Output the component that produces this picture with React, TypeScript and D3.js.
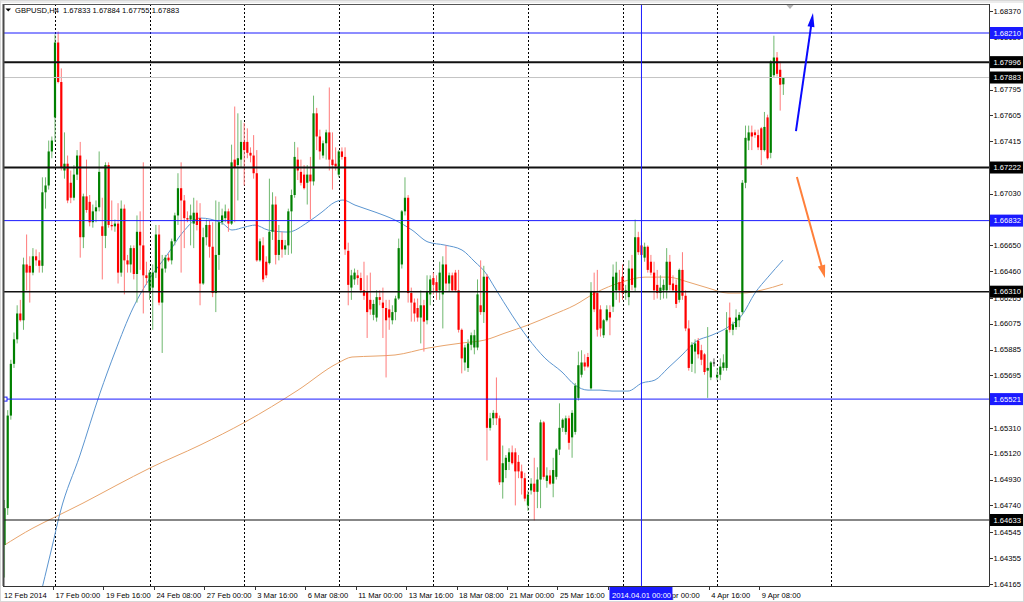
import React from "react";
import * as d3 from "d3";

// ---------- data ----------
const SYMBOL = "GBPUSD,H4";
const LAST_OHLC = ["1.67833", "1.67884", "1.67755", "1.67883"];

// bar index of the first candle (bar 0 = 17 Feb 2014 00:00, H4 bars, 30 per week)
const FIRST_BAR = -16;

// [open, high, low, close]
const candles: [number, number, number, number][] = [
  [1.6445, 1.6478, 1.6421, 1.6472], [1.6472, 1.6544, 1.6467, 1.654], [1.654, 1.6581, 1.6537, 1.6578], [1.6578, 1.6601, 1.6575, 1.6596],
  [1.6596, 1.6621, 1.6593, 1.6615], [1.6615, 1.6625, 1.6609, 1.661], [1.661, 1.6656, 1.6603, 1.6651], [1.6651, 1.6673, 1.6632, 1.6645],
  [1.665, 1.6657, 1.6623, 1.6645], [1.6645, 1.6663, 1.6643, 1.6657], [1.6657, 1.6662, 1.665, 1.6654], [1.6654, 1.666, 1.6645, 1.665],
  [1.665, 1.6715, 1.6645, 1.6704], [1.6704, 1.6715, 1.6692, 1.6709], [1.6709, 1.6742, 1.6706, 1.6734], [1.6734, 1.6745, 1.6729, 1.6742],
  [1.6759, 1.682, 1.6741, 1.6814], [1.6814, 1.6822, 1.6784, 1.6785], [1.6785, 1.6795, 1.672, 1.6722], [1.672, 1.6748, 1.6714, 1.6725],
  [1.6725, 1.6731, 1.6696, 1.6698], [1.6711, 1.672, 1.6696, 1.67], [1.67, 1.6724, 1.6698, 1.6717], [1.6717, 1.6735, 1.6713, 1.6731],
  [1.6731, 1.6741, 1.6656, 1.6671], [1.6671, 1.6703, 1.6663, 1.6701], [1.6701, 1.6728, 1.6689, 1.6691], [1.6697, 1.6702, 1.6679, 1.6682],
  [1.6682, 1.6695, 1.6678, 1.669], [1.669, 1.6698, 1.6682, 1.6693], [1.6693, 1.6734, 1.669, 1.6719], [1.6679, 1.67, 1.664, 1.6672],
  [1.6672, 1.6726, 1.6663, 1.6724], [1.6724, 1.6726, 1.6678, 1.668], [1.668, 1.6698, 1.6676, 1.6679], [1.6679, 1.6684, 1.6675, 1.6681],
  [1.6681, 1.6696, 1.6637, 1.6645], [1.6645, 1.6698, 1.6642, 1.6692], [1.6692, 1.6695, 1.6629, 1.6654], [1.6654, 1.6658, 1.6645, 1.6651],
  [1.6651, 1.6665, 1.6645, 1.6663], [1.6663, 1.6665, 1.664, 1.6644], [1.6644, 1.6687, 1.6623, 1.6675], [1.6675, 1.669, 1.6647, 1.6665],
  [1.6665, 1.6726, 1.6615, 1.6643], [1.6643, 1.6653, 1.6636, 1.6641], [1.6631, 1.6647, 1.6625, 1.6645], [1.6634, 1.6651, 1.6603, 1.6645],
  [1.6645, 1.668, 1.6641, 1.6673], [1.6673, 1.668, 1.6621, 1.6623], [1.6623, 1.6658, 1.6586, 1.6648], [1.6648, 1.6658, 1.6645, 1.6656],
  [1.6656, 1.6659, 1.6653, 1.6654], [1.6654, 1.667, 1.6651, 1.6668], [1.6668, 1.6689, 1.6665, 1.6687], [1.6687, 1.6718, 1.668, 1.6707],
  [1.6707, 1.6726, 1.6645, 1.6698], [1.6698, 1.6702, 1.6663, 1.6685], [1.6685, 1.669, 1.6682, 1.6684], [1.6684, 1.6695, 1.6665, 1.6687],
  [1.6681, 1.67, 1.6663, 1.6689], [1.6689, 1.6698, 1.6676, 1.668], [1.6685, 1.6696, 1.6621, 1.6637], [1.6637, 1.6678, 1.6636, 1.6671],
  [1.6671, 1.6684, 1.6665, 1.668], [1.668, 1.6683, 1.6656, 1.6664], [1.6664, 1.6682, 1.6627, 1.663], [1.663, 1.6698, 1.6616, 1.6658],
  [1.6658, 1.6697, 1.6647, 1.6682], [1.6682, 1.6692, 1.668, 1.6687], [1.6685, 1.6695, 1.6682, 1.669], [1.669, 1.6692, 1.6675, 1.6681],
  [1.6681, 1.6739, 1.668, 1.6726], [1.6728, 1.6767, 1.6682, 1.6722], [1.6724, 1.6762, 1.6698, 1.6729], [1.6728, 1.6757, 1.6722, 1.6741],
  [1.6741, 1.6755, 1.6709, 1.6735], [1.6741, 1.6751, 1.6729, 1.6733], [1.6733, 1.6737, 1.6726, 1.6731], [1.6731, 1.6746, 1.6714, 1.6718],
  [1.6718, 1.6735, 1.6653, 1.6654], [1.6654, 1.667, 1.6653, 1.6668], [1.6665, 1.6671, 1.6638, 1.664], [1.6653, 1.6657, 1.6641, 1.6643],
  [1.6652, 1.6714, 1.6651, 1.6675], [1.6675, 1.6704, 1.6669, 1.6695], [1.6695, 1.6701, 1.6651, 1.6658], [1.6658, 1.668, 1.6654, 1.6669],
  [1.6669, 1.6675, 1.6656, 1.6662], [1.6662, 1.6669, 1.6658, 1.6665], [1.6665, 1.6692, 1.6658, 1.669], [1.669, 1.6706, 1.6659, 1.6702],
  [1.6702, 1.6741, 1.67, 1.673], [1.6728, 1.6737, 1.6713, 1.672], [1.6719, 1.6728, 1.6709, 1.6711], [1.6717, 1.6724, 1.6706, 1.6707],
  [1.6711, 1.6724, 1.6695, 1.6717], [1.6717, 1.673, 1.6684, 1.6712], [1.6712, 1.6775, 1.6709, 1.6762], [1.6762, 1.6766, 1.6735, 1.6745],
  [1.6745, 1.675, 1.6728, 1.6734], [1.6731, 1.6742, 1.6729, 1.674], [1.674, 1.675, 1.6728, 1.6748], [1.6748, 1.6781, 1.672, 1.6728],
  [1.6728, 1.6748, 1.6706, 1.6724], [1.6725, 1.6737, 1.672, 1.6723], [1.6717, 1.6735, 1.6715, 1.6734], [1.6734, 1.6737, 1.6728, 1.673],
  [1.673, 1.6737, 1.6658, 1.6662], [1.6661, 1.6667, 1.6621, 1.6636], [1.6634, 1.6647, 1.6625, 1.6643], [1.664, 1.6648, 1.6636, 1.6645],
  [1.6643, 1.6647, 1.6636, 1.6641], [1.6641, 1.6645, 1.663, 1.6632], [1.6632, 1.6653, 1.6625, 1.6628], [1.6631, 1.6643, 1.6597, 1.6616],
  [1.6625, 1.6645, 1.6614, 1.6618], [1.6614, 1.6625, 1.661, 1.6622], [1.6612, 1.6632, 1.6609, 1.6627], [1.6627, 1.6632, 1.6621, 1.6625],
  [1.6623, 1.6634, 1.6597, 1.6619], [1.6619, 1.6625, 1.6568, 1.661], [1.6618, 1.6625, 1.6603, 1.6612], [1.661, 1.6621, 1.6607, 1.6616],
  [1.6616, 1.6628, 1.661, 1.6626], [1.6626, 1.667, 1.6625, 1.6663], [1.6651, 1.6691, 1.6648, 1.669], [1.669, 1.6715, 1.6687, 1.67],
  [1.67, 1.6702, 1.6623, 1.663], [1.663, 1.6634, 1.6609, 1.6623], [1.6623, 1.6626, 1.6609, 1.6615], [1.6619, 1.6626, 1.6609, 1.6612],
  [1.6612, 1.6632, 1.6593, 1.6621], [1.6621, 1.6625, 1.6587, 1.6609], [1.661, 1.6643, 1.6607, 1.6631], [1.6629, 1.6643, 1.6621, 1.664],
  [1.6641, 1.6645, 1.6629, 1.6636], [1.6638, 1.6643, 1.6625, 1.6631], [1.6632, 1.6653, 1.6625, 1.6645], [1.6629, 1.6657, 1.6604, 1.6651],
  [1.6651, 1.6665, 1.6632, 1.6637], [1.6637, 1.6645, 1.6631, 1.6643], [1.6643, 1.6645, 1.6631, 1.6632], [1.6645, 1.6647, 1.6631, 1.6632],
  [1.6632, 1.6647, 1.6601, 1.6603], [1.6603, 1.6604, 1.6571, 1.6582], [1.6579, 1.6592, 1.6573, 1.659], [1.6575, 1.6596, 1.6572, 1.6593],
  [1.6592, 1.6601, 1.6588, 1.6599], [1.659, 1.6603, 1.6585, 1.6599], [1.659, 1.664, 1.6588, 1.6629], [1.6621, 1.6654, 1.6614, 1.6616],
  [1.6616, 1.665, 1.6608, 1.6642], [1.6642, 1.6644, 1.6507, 1.6531], [1.6531, 1.6542, 1.6529, 1.6538], [1.6538, 1.6544, 1.6533, 1.6542],
  [1.6542, 1.6568, 1.6533, 1.6538], [1.6538, 1.654, 1.6489, 1.6491], [1.6491, 1.6518, 1.6479, 1.6505], [1.65, 1.6511, 1.6494, 1.6509],
  [1.6506, 1.6516, 1.65, 1.6513], [1.6513, 1.6518, 1.6504, 1.6505], [1.6513, 1.6516, 1.6474, 1.6499], [1.6506, 1.6511, 1.6494, 1.6499],
  [1.6499, 1.6504, 1.6482, 1.6494], [1.6494, 1.6498, 1.6477, 1.6479], [1.6474, 1.6485, 1.647, 1.6482], [1.6485, 1.6494, 1.6482, 1.649],
  [1.649, 1.6509, 1.6463, 1.6484], [1.6484, 1.6502, 1.6472, 1.6493], [1.6493, 1.6537, 1.6472, 1.6535], [1.6535, 1.6536, 1.6493, 1.6495],
  [1.6492, 1.6502, 1.6487, 1.6496], [1.6496, 1.65, 1.6489, 1.649], [1.649, 1.6509, 1.648, 1.65], [1.6495, 1.6516, 1.6493, 1.6515],
  [1.6515, 1.6549, 1.6511, 1.6531], [1.6531, 1.6538, 1.6528, 1.6537], [1.6528, 1.654, 1.6526, 1.6538], [1.6538, 1.654, 1.6515, 1.652],
  [1.6524, 1.6544, 1.6509, 1.6542], [1.6528, 1.6564, 1.6526, 1.6562], [1.6553, 1.6587, 1.6551, 1.6577], [1.657, 1.6588, 1.6568, 1.6579],
  [1.6579, 1.6585, 1.6573, 1.6576], [1.6583, 1.6586, 1.6575, 1.6576], [1.656, 1.6638, 1.6559, 1.6631], [1.6631, 1.6645, 1.6616, 1.6618],
  [1.663, 1.6647, 1.6598, 1.6603], [1.6618, 1.6621, 1.6598, 1.6604], [1.6599, 1.6611, 1.6597, 1.661], [1.661, 1.6621, 1.6609, 1.6618],
  [1.6616, 1.6621, 1.6599, 1.6612], [1.662, 1.6651, 1.6616, 1.6642], [1.6632, 1.6653, 1.6625, 1.6645], [1.6638, 1.6647, 1.6623, 1.6632],
  [1.6642, 1.6651, 1.6625, 1.663], [1.663, 1.6636, 1.6625, 1.6632], [1.6627, 1.6654, 1.6621, 1.6648], [1.6648, 1.6658, 1.6632, 1.6636],
  [1.6634, 1.6684, 1.6631, 1.6671], [1.6671, 1.6675, 1.6658, 1.666], [1.6665, 1.6675, 1.6656, 1.6658], [1.6656, 1.6667, 1.6653, 1.6664],
  [1.6664, 1.6665, 1.6645, 1.6647], [1.6653, 1.6658, 1.6643, 1.6645], [1.6645, 1.6653, 1.6625, 1.6632], [1.6636, 1.6647, 1.6626, 1.663],
  [1.663, 1.6643, 1.6625, 1.6634], [1.6632, 1.664, 1.6626, 1.6636], [1.6632, 1.6663, 1.6626, 1.6653], [1.6653, 1.6658, 1.6632, 1.6636],
  [1.6637, 1.6643, 1.6631, 1.6632], [1.6636, 1.664, 1.6619, 1.6622], [1.6625, 1.6648, 1.6623, 1.6647], [1.6647, 1.666, 1.6625, 1.6628],
  [1.6628, 1.6632, 1.6602, 1.6604], [1.6604, 1.661, 1.6573, 1.6575], [1.6578, 1.6594, 1.6572, 1.6592], [1.6587, 1.6596, 1.6571, 1.6593],
  [1.6595, 1.6597, 1.6582, 1.6585], [1.6588, 1.6592, 1.6577, 1.6581], [1.6585, 1.6586, 1.657, 1.6572], [1.6573, 1.6605, 1.6553, 1.6575],
  [1.6568, 1.658, 1.6566, 1.6579], [1.6579, 1.6582, 1.6576, 1.6579], [1.6568, 1.6575, 1.6566, 1.657], [1.657, 1.6582, 1.6566, 1.6576],
  [1.6575, 1.6585, 1.6573, 1.6579], [1.6575, 1.6616, 1.6573, 1.6603], [1.6612, 1.6623, 1.6601, 1.6603], [1.6603, 1.6609, 1.6599, 1.6607],
  [1.6605, 1.6618, 1.6603, 1.6612], [1.661, 1.6616, 1.6605, 1.6614], [1.6616, 1.6713, 1.6614, 1.6711], [1.6711, 1.6753, 1.6707, 1.6744],
  [1.6742, 1.6753, 1.6735, 1.6748], [1.6748, 1.6753, 1.6735, 1.6745], [1.6748, 1.675, 1.6744, 1.6746], [1.6746, 1.675, 1.6735, 1.6737],
  [1.6751, 1.6752, 1.6724, 1.6735], [1.6735, 1.6763, 1.6734, 1.6752], [1.6759, 1.6761, 1.6728, 1.6729], [1.6733, 1.6801, 1.6729, 1.68],
  [1.679, 1.6819, 1.6788, 1.6803], [1.6803, 1.6807, 1.6789, 1.6791], [1.6794, 1.68, 1.6764, 1.6783], [1.67833, 1.67884, 1.67755, 1.67883],
];

// moving averages: [bar, price]
const maFast: [number, number][] = [
  [-5.4, 1.64008], [-0.95, 1.64434], [1.59, 1.64684], [7.93, 1.6511], [14.27, 1.65565], [19.03, 1.65867], [24.74, 1.6619],
  [30.13, 1.6641], [35.52, 1.66579], [40.6, 1.66748], [45.99, 1.66851], [52.97, 1.66814], [56.14, 1.66763], [60.26, 1.66785],
  [63.43, 1.66799], [67.56, 1.66763], [73.9, 1.66748], [80.24, 1.66821], [84.68, 1.66895], [88.8, 1.66968], [91.34, 1.66983],
  [95.15, 1.66946], [101.49, 1.66895], [107.83, 1.66836], [113.23, 1.66763], [118.3, 1.66675], [123.69, 1.66652], [129.08, 1.66616],
  [133.21, 1.66528], [136.38, 1.66454], [139.55, 1.66337], [144.94, 1.66138], [150.02, 1.65969], [155.41, 1.65822], [160.8, 1.6572],
  [164.92, 1.65624], [169.05, 1.65587], [172.85, 1.65587], [176.66, 1.6558], [181.73, 1.6558], [186.17, 1.65639], [190.29, 1.65661],
  [194.42, 1.65749], [198.86, 1.65845], [202.98, 1.6594], [208.37, 1.65991], [213.45, 1.6605], [217.89, 1.66138], [222.01, 1.663],
  [226.13, 1.66417], [230.89, 1.66542],
];
const maSlow: [number, number][] = [
  [-16.49, 1.64442], [-6.98, 1.64574], [0, 1.64655], [8.88, 1.64757], [19.66, 1.6489], [30.13, 1.65015], [45.99, 1.65183],
  [60.26, 1.65352], [77.07, 1.65587], [89.76, 1.65786], [94.2, 1.6583], [101.49, 1.65837], [107.83, 1.65845], [118.3, 1.65896],
  [129.08, 1.65933], [136.38, 1.65955], [142.72, 1.66006], [150.02, 1.66065], [157.63, 1.66138], [164.92, 1.66212], [171.27, 1.663],
  [179.83, 1.66381], [187.13, 1.66417], [194.42, 1.66417], [200.76, 1.66381], [207.1, 1.66337], [213.45, 1.663], [217.89, 1.663],
  [224.23, 1.66322], [230.89, 1.66366],
];

// right axis tick labels
const priceTicks = [
  1.6837, 1.6818, 1.6799, 1.67795, 1.67605, 1.67415, 1.67225, 1.6703, 1.6684, 1.6665, 1.6646, 1.66265,
  1.66075, 1.65885, 1.65695, 1.65505, 1.6531, 1.6512, 1.6493, 1.6474, 1.64545, 1.64355, 1.64165,
];

// bottom axis labels
const timeTickBars = [-16, 0, 16, 32, 48, 64, 80, 96, 112, 128, 144, 160, 176, 192, 208, 224];
const timeTickLabels = [
  "12 Feb 2014", "17 Feb 00:00", "19 Feb 16:00", "24 Feb 08:00", "27 Feb 00:00", "3 Mar 16:00", "6 Mar 08:00",
  "11 Mar 00:00", "13 Mar 16:00", "18 Mar 08:00", "21 Mar 00:00", "25 Mar 16:00", "28 Mar 08:00", "2 Apr 00:00",
  "4 Apr 16:00", "9 Apr 08:00",
];

// weekly period separators (bars)
const separatorBars = [0, 30, 60, 90, 120, 150, 180, 210, 246];

// horizontal level lines
const levelPrices = [1.6821, 1.67996, 1.67883, 1.67222, 1.66832, 1.6631, 1.65521, 1.64633];
const levelKinds = ["blue", "black", "bid", "black", "blue", "black", "blue", "black"];

// vertical line object
const markerBar = 186;
const markerLabel = "2014.04.01 00:00";

// arrows: [bar, price] start -> end
const upArrow: [number, number][] = [[235.0, 1.6749], [240.4, 1.68357]];
const downArrow: [number, number][] = [[235.3, 1.67152], [244.2, 1.6641]];

// ---------- chart ----------
const FONT = "'Liberation Sans', Arial, sans-serif";
const FS = 7.6;
const L = 3, T = 4, R = 989, B = 586;
const BLUE = "#1a1aff";

const levelWidth = [1, 2, 1, 2, 1, 1.5, 1, 1.2];

function arrowHead(s: [number, number], e: [number, number], len: number, half: number) {
  const dx = e[0] - s[0], dy = e[1] - s[1];
  const d = Math.hypot(dx, dy);
  const ux = dx / d, uy = dy / d;
  const nx = -uy, ny = ux;
  const bx = e[0] - ux * len, by = e[1] - uy * len;
  return {
    pts: `${e[0]},${e[1]} ${bx + nx * half},${by + ny * half} ${bx - nx * half},${by - ny * half}`,
    lineEnd: [e[0] - ux * len * 0.7, e[1] - uy * len * 0.7] as [number, number],
  };
}

export default function App() {
  const x = d3.scaleLinear().domain([0, 210]).range([55, 717.13]);
  const y = d3.scaleLinear().domain([1.6821, 1.64633]).range([33, 520]);
  const line = d3
    .line<[number, number]>()
    .x((d) => x(d[0]))
    .y((d) => y(d[1]))
    .curve(d3.curveMonotoneX);

  const up0: [number, number] = [x(upArrow[0][0]), y(upArrow[0][1])];
  const up1: [number, number] = [x(upArrow[1][0]), y(upArrow[1][1])];
  const dn0: [number, number] = [x(downArrow[0][0]), y(downArrow[0][1])];
  const dn1: [number, number] = [x(downArrow[1][0]), y(downArrow[1][1])];
  const upHead = arrowHead(up0, up1, 14, 3.5);
  const dnHead = arrowHead(dn0, dn1, 13, 3.8);

  const mx = x(markerBar);
  const boxL = mx - 32, boxR = mx + 31;

  // tick labels that sit entirely beneath a level's price box are not visible
  const visibleTicks = priceTicks.filter(
    (p) => !levelPrices.some((lp) => Math.abs(y(p) - y(lp)) < 2)
  );

  return (
    <svg
      width={1024}
      height={602}
      style={{ position: "fixed", left: 0, top: 0, background: "#fff" }}
      fontFamily={FONT}
    >
      <defs>
        <clipPath id="plot">
          <rect x={L + 1} y={T + 0.5} width={R - L - 1} height={B - T - 0.5} />
        </clipPath>
      </defs>
      <rect x={0} y={0} width={1024} height={602} fill="#fff" />
      <rect x={0.5} y={0.5} width={1023} height={601} fill="none" stroke="#d8d8d8" />
      <rect x={1} y={1} width={1022} height={2} fill="#ececec" />

      <g clipPath="url(#plot)">
        {/* period separators */}
        {separatorBars.map((b, i) => (
          <line key={i} x1={Math.round(x(b)) + 0.5} x2={Math.round(x(b)) + 0.5} y1={T} y2={B}
            stroke="#000" strokeWidth={1} strokeDasharray="2,2" />
        ))}

        {/* moving averages */}
        <path d={line(maSlow) || ""} fill="none" stroke="#e8a46c" strokeWidth={1} />
        <path d={line(maFast) || ""} fill="none" stroke="#5b95d0" strokeWidth={1} />

        {/* candles */}
        {candles.map((c, i) => {
          const [o, h, l, cl] = c;
          const cx = x(FIRST_BAR + i);
          const bull = cl > o, bear = cl < o;
          const body = bull ? "#008000" : bear ? "#ff0000" : "#222";
          const wick = bull ? "#6fb86f" : bear ? "#ff7a7a" : "#555";
          const yt = y(Math.max(o, cl)), yb = y(Math.min(o, cl));
          return (
            <g key={i}>
              <line x1={cx} x2={cx} y1={y(h)} y2={y(l)} stroke={wick} strokeWidth={1} />
              <rect x={cx - 1.1} y={yt} width={2.2} height={Math.max(1, yb - yt)} fill={body} />
            </g>
          );
        })}

        {/* level lines */}
        {levelPrices.map((p, i) => {
          const k = levelKinds[i];
          const col = k === "blue" ? BLUE : k === "bid" ? "#c4c4c4" : "#111";
          return (
            <line key={i} x1={L} x2={R} y1={y(p)} y2={y(p)} stroke={col} strokeWidth={levelWidth[i]} />
          );
        })}

        {/* vertical line object */}
        <line x1={mx} x2={mx} y1={T} y2={B} stroke={BLUE} strokeWidth={1} />

        {/* arrows */}
        <line x1={up0[0]} y1={up0[1]} x2={upHead.lineEnd[0]} y2={upHead.lineEnd[1]} stroke="#0a0aff" strokeWidth={2} />
        <polygon points={upHead.pts} fill="#0a0aff" />
        <line x1={dn0[0]} y1={dn0[1]} x2={dnHead.lineEnd[0]} y2={dnHead.lineEnd[1]} stroke="#ff7f3a" strokeWidth={2} />
        <polygon points={dnHead.pts} fill="#ff7f3a" />

        {/* chart shift marker */}
        <polygon points="786,4.5 794,4.5 790,9" fill="#b4b4b4" />
      </g>

      {/* left anchor square of a level line */}
      <rect x={3.5} y={y(1.65521) - 2} width={3.5} height={4} fill="#fff" stroke={BLUE} strokeWidth={1} />

      {/* frame */}
      <line x1={L + 0.5} x2={L + 0.5} y1={T} y2={B} stroke="#4a4a4a" strokeWidth={2} />
      <line x1={L} x2={R} y1={T + 0.5} y2={T + 0.5} stroke="#555" strokeWidth={1} />
      <line x1={R + 0.5} x2={R + 0.5} y1={T} y2={B + 0.5} stroke="#333" strokeWidth={1} />
      <line x1={L} x2={R} y1={B + 0.5} y2={B + 0.5} stroke="#333" strokeWidth={1} />

      {/* right axis */}
      {priceTicks.map((p, i) => (
        <line key={i} x1={R + 1} x2={R + 4} y1={Math.round(y(p)) + 0.5} y2={Math.round(y(p)) + 0.5} stroke="#333" />
      ))}
      {visibleTicks.map((p, i) => (
        <text key={i} x={R + 4.5} y={y(p) + 2.8} fontSize={FS} fill="#000">{p.toFixed(5)}</text>
      ))}
      {levelPrices.map((p, i) => {
        const k = levelKinds[i];
        const bg = k === "blue" ? BLUE : "#000";
        return (
          <g key={i}>
            <rect x={R + 1} y={y(p) - 6} width={1024 - R - 2} height={12} fill={bg} />
            <text x={R + 4.5} y={y(p) + 2.8} fontSize={FS} fill="#fff">{p.toFixed(5)}</text>
          </g>
        );
      })}

      {/* bottom axis */}
      {timeTickBars.map((b, i) => {
        const tx = i === 0 ? 4 : x(b) + 0.5;
        const hidden = tx >= boxL && tx + 46 <= boxR;
        return (
          <g key={i}>
            {i > 0 && (
              <line x1={Math.round(x(b)) - 1.5} x2={Math.round(x(b)) - 1.5} y1={B} y2={B + 4} stroke="#333" />
            )}
            {!hidden && (
              <text x={tx} y={597.5} fontSize={FS} fill="#000">{timeTickLabels[i]}</text>
            )}
          </g>
        );
      })}
      <rect x={boxL} y={587} width={boxR - boxL} height={13} fill={BLUE} />
      <text x={mx - 29.5} y={597.5} fontSize={FS} fill="#fff">{markerLabel}</text>

      {/* title */}
      <polygon points="5.5,8.5 11,8.5 8.25,11.5" fill="#000" />
      <text x={15} y={12.8} fontSize={FS} fill="#000">{SYMBOL}</text>
      <text x={63} y={12.8} fontSize={FS} fill="#000">{LAST_OHLC.join(" ")}</text>
    </svg>
  );
}
